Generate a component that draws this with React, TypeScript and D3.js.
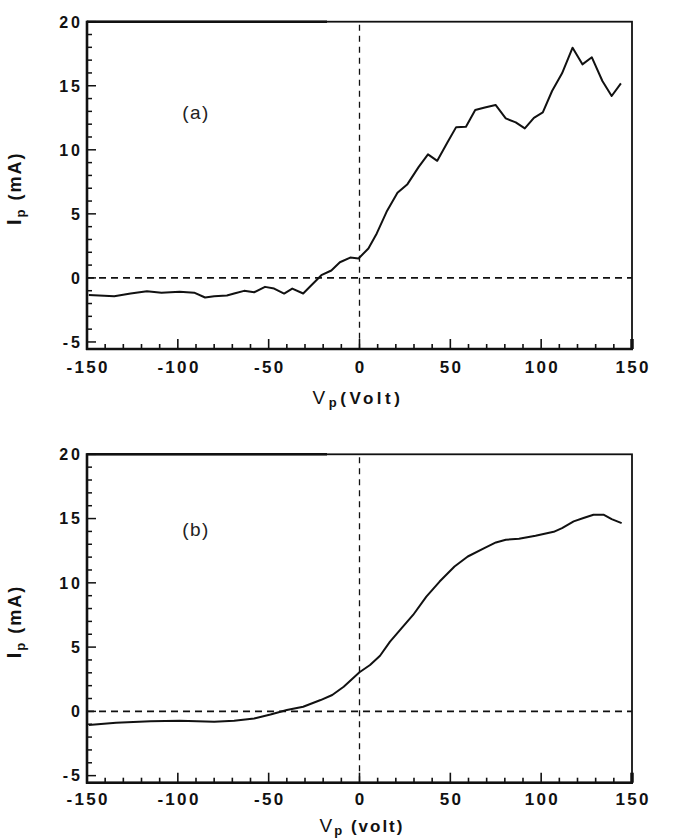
import React from "react";
import * as d3 from "d3";

// probe voltage (V) and collected current (mA), upper trace
const voltsA = [
  -149, -135, -126, -117, -109, -99, -91, -85, -80, -73, -69, -63.5, -58, -52, -47,
  -41.5, -37, -31, -26.5, -21, -15.5, -10.8, -5.1, -0.5, 4.9, 9.5, 14.9, 20.9, 26.4,
  32.6, 37.7, 42.8, 48.3, 53.2, 58.6, 63.7, 69, 74.9, 80.5, 86, 91, 96, 100.9, 106,
  111.5, 117.3, 122.7, 127.9, 133.7, 138.8, 143.9,
];
const currentA = [
  -1.33, -1.43, -1.22, -1.04, -1.15, -1.09, -1.15, -1.53, -1.43, -1.38, -1.22, -1.01,
  -1.12, -0.7, -0.83, -1.22, -0.83, -1.22, -0.57, 0.21, 0.58, 1.22, 1.59, 1.52, 2.3,
  3.47, 5.16, 6.64, 7.32, 8.67, 9.64, 9.14, 10.55, 11.77, 11.8, 13.1, 13.3, 13.5,
  12.45, 12.14, 11.67, 12.5, 12.92, 14.59, 15.97, 17.97, 16.67, 17.22, 15.37, 14.2,
  15.19,
];

// lower trace
const voltsB = [
  -149, -134, -115, -99, -80, -69, -58, -49, -40, -31, -21.4, -15, -8.7, 0, 5.8, 11.3,
  16.8, 23.2, 29.5, 36.8, 44.1, 52.3, 59.6, 68.7, 75.1, 80.5, 87.8, 96.9, 106.9,
  111.5, 117.9, 123.3, 128.8, 134.3, 138.8, 144.3,
];
const currentB = [
  -1.07, -0.89, -0.76, -0.73, -0.81, -0.73, -0.55, -0.24, 0.1, 0.36, 0.88, 1.27,
  1.92, 3.04, 3.61, 4.33, 5.42, 6.47, 7.5, 8.93, 10.1, 11.27, 12.05, 12.7, 13.14,
  13.35, 13.43, 13.66, 13.97, 14.26, 14.78, 15.04, 15.3, 15.3, 14.96, 14.65,
];

const xTicks = [-150, -100, -50, 0, 50, 100, 150];
const yTicks = [-5, 0, 5, 10, 15, 20];

const FONT = "'Liberation Sans', Arial, Helvetica, sans-serif";

type PanelProps = {
  top: number;
  bottom: number;
  volts: number[];
  current: number[];
  tag: string;
  tagY: number;
  tickY: number;
  titleY: number;
  titleX: number;
  unit: string;
  unitSpacing: number;
};

function Panel(props: PanelProps) {
  const { top, bottom, volts, current, tag, tagY, tickY, titleY, titleX, unit, unitSpacing } = props;
  const x = d3.scaleLinear().domain([-150, 150]).range([87, 632]);
  const y = d3.scaleLinear().domain([-5.55, 20]).range([bottom, top]);
  const line = d3
    .line<number>()
    .x((_, k) => x(volts[k]))
    .y((d) => y(d));

  const x0 = x(-150);
  const x1 = x(150);

  return (
    <g>
      {/* zero reference lines */}
      <line x1={x0} x2={x1} y1={y(0)} y2={y(0)} stroke="#111" strokeWidth={1.6} strokeDasharray="7 5" />
      <line x1={x(0)} x2={x(0)} y1={top + 3} y2={bottom} stroke="#111" strokeWidth={1.3} strokeDasharray="6 5" />

      <path d={line(current) ?? ""} fill="none" stroke="#111" strokeWidth={2} strokeLinejoin="round" />

      {/* frame */}
      <rect x={x0} y={top} width={x1 - x0} height={bottom - top} fill="none" stroke="#111" strokeWidth={1.8} />
      <line x1={x0} x2={x0} y1={top - 1} y2={bottom + 1} stroke="#111" strokeWidth={2.6} />
      <line x1={x0 - 1} x2={x1 + 1} y1={bottom} y2={bottom} stroke="#111" strokeWidth={2.6} />
      <line x1={x0} x2={x0 + 240} y1={top} y2={top} stroke="#111" strokeWidth={2.4} />

      {/* x ticks, pointing inward */}
      {d3.range(-150, 151, 10).map((v) => (
        <line
          key={"xt" + v}
          x1={x(v)}
          x2={x(v)}
          y1={bottom}
          y2={bottom - (v % 50 === 0 ? 10 : 5)}
          stroke="#111"
          strokeWidth={v === 150 ? 3.5 : 1.6}
        />
      ))}
      {/* y ticks */}
      {d3.range(-5, 21, 1).map((v) => (
        <line
          key={"yt" + v}
          x1={x0}
          x2={x0 + (v % 5 === 0 ? 9 : 5)}
          y1={y(v)}
          y2={y(v)}
          stroke="#111"
          strokeWidth={1.5}
        />
      ))}

      {xTicks.map((v) => (
        <text
          key={"xl" + v}
          x={x(v) + 1.2}
          y={tickY}
          textAnchor="middle"
          fontFamily={FONT}
          fontWeight="bold"
          fontSize={17}
          letterSpacing={2.3}
          fill="#111"
        >
          {v}
        </text>
      ))}
      {yTicks.map((v) => (
        <text
          key={"yl" + v}
          x={83}
          y={y(v) + 5.8}
          textAnchor="end"
          fontFamily={FONT}
          fontWeight="bold"
          fontSize={16}
          letterSpacing={3}
          fill="#111"
        >
          {v}
        </text>
      ))}

      <text
        x={196}
        y={tagY}
        textAnchor="middle"
        fontFamily={FONT}
        fontSize={19}
        letterSpacing={1.5}
        fill="#222"
      >
        {tag}
      </text>

      {/* axis titles */}
      <text
        x={titleX}
        y={titleY}
        textAnchor="middle"
        fontFamily={FONT}
        fontWeight="bold"
        fontSize={17}
        letterSpacing={unitSpacing}
        fill="#111"
      >
        <tspan fontWeight="normal" fontSize={19}>V</tspan>
        <tspan fontSize={13} dy={3}>p</tspan>
        <tspan dy={-3}>{unit}</tspan>
      </text>
      <text
        transform={`translate(21,${(top + bottom) / 2 + 3}) rotate(-90)`}
        textAnchor="middle"
        fontFamily={FONT}
        fontWeight="bold"
        fontSize={18}
        letterSpacing={2}
        fill="#111"
      >
        <tspan fontSize={20}>I</tspan>
        <tspan fontSize={13} dy={4}>p</tspan>
        <tspan dy={-4}> (mA)</tspan>
      </text>
    </g>
  );
}

export default function App() {
  return (
    <svg
      width={675}
      height={840}
      viewBox="0 0 675 840"
      style={{ position: "absolute", left: 0, top: 0, background: "#fff", display: "block" }}
    >
      <rect width={675} height={840} fill="#fff" />
      <Panel
        top={21.7}
        bottom={349}
        volts={voltsA}
        current={currentA}
        tag="(a)"
        tagY={119}
        tickY={373}
        titleY={404}
        titleX={358}
        unit="(Volt)"
        unitSpacing={3.5}
      />
      <Panel
        top={454.3}
        bottom={782.7}
        volts={voltsB}
        current={currentB}
        tag="(b)"
        tagY={536}
        tickY={805}
        titleY={832}
        titleX={362}
        unit="  (volt)"
        unitSpacing={2}
      />
    </svg>
  );
}
